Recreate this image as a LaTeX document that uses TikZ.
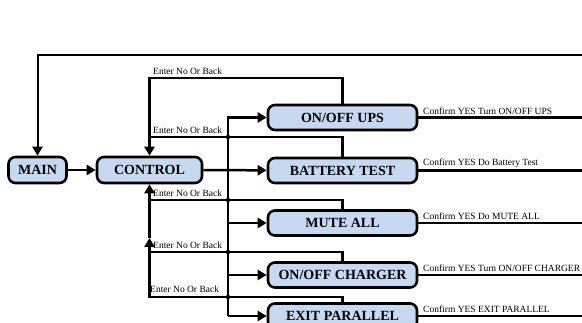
\documentclass[tikz,border=0pt]{standalone}
\usepackage{fontspec}
\setmainfont{Liberation Serif}
\usetikzlibrary{arrows.meta}
\definecolor{boxblue}{RGB}{198,217,241}
\begin{document}
\begin{tikzpicture}[x=1pt,y=-1pt,
  box/.style={draw=black, line width=2.6pt, fill=boxblue, rounded corners=7pt, minimum height=25pt, inner sep=0pt, font=\fontsize{14}{15}\selectfont\bfseries},
  wide/.style={box, minimum width=149pt},
  conn/.style={line width=2.5pt},
  thinconn/.style={line width=2pt},
  arr/.style={conn, -{Triangle[length=9pt,width=10pt]}},
  lbl/.style={font=\fontsize{9.5}{10}\selectfont, inner sep=0pt, anchor=south west},
  jdot/.style={circle, fill=black, inner sep=0pt, minimum size=4.5pt}]
\useasboundingbox (0,0) rectangle (582,323);
\clip (0,0) rectangle (582,323);

% nodes
\node[box, minimum width=58pt, minimum height=26pt] (main) at (37.5,170) {MAIN};
\node[box, minimum width=105pt, minimum height=26pt] (control) at (149.5,170) {CONTROL};
\node[wide] (ups) at (342.5,117.5) {ON/OFF UPS};
\node[wide] (bat) at (342.5,170.5) {BATTERY TEST};
\node[wide] (mute) at (342.5,223) {MUTE ALL};
\node[wide] (chg) at (342.5,275) {ON/OFF CHARGER};
\node[wide, text depth=1pt] (exit) at (342.5,316) {EXIT PARALLEL};

% coordinates
\coordinate (topR) at (590,55);
\coordinate (r1) at (149.5,78);
\coordinate (r2) at (149.5,137);
\coordinate (r3) at (149.5,200);
\coordinate (r4) at (149.5,252);
\coordinate (r5) at (149.5,297);
\coordinate (mid) at (149.5,238);
\coordinate (f1) at (228,117.5);
\coordinate (f3) at (228,223);
\coordinate (f4) at (228,275);
\coordinate (f5) at (228,316);
\coordinate (eU) at (590,117.5);
\coordinate (eB) at (590,170.5);
\coordinate (eM) at (590,223);
\coordinate (eC) at (590,275);
\coordinate (eE) at (590,316);

% top loop back to MAIN
\draw[thinconn, -{Triangle[length=9pt,width=10pt]}] (topR) -| (main.north);

% forward connectors
\draw[arr] (main) -- (control);
\draw[arr] (control) -- (bat);
\draw[arr] (f5) -- (f1) -- (ups.west);
\draw[arr] (f3) -- (mute.west);
\draw[arr] (f4) -- (chg.west);
\draw[arr] (f5) -- (exit.west);

% return connectors
\draw[arr] (ups.north) |- (r1) -- (control.north);
\draw[conn] (bat.north) |- (r2);
\draw[conn] (mute.north) |- (r3);
\draw[conn] (chg.north) |- (r4);
\draw[conn] (exit.north) |- (r5) -- (r4);
\draw[arr] (r4) -- (mid);
\draw[arr] (mid) -- (control.south);

% junction dots
\node[jdot] at (228,137) {};
\node[jdot] at (228,200) {};
\node[jdot] at (228,252) {};
\node[jdot] at (228,297) {};

% right exits
\draw[conn] (ups.east) -- (eU);
\draw[conn] (bat.east) -- (eB);
\draw[conn] (mute.east) -- (eM);
\draw[conn] (chg.east) -- (eC);
\draw[conn] (exit.east) -- (eE);

% labels
\node[lbl] at (153,75) {Enter No Or Back};
\node[lbl] at (153,134) {Enter No Or Back};
\node[lbl] at (153,197) {Enter No Or Back};
\node[lbl] at (153,249) {Enter No Or Back};
\node[lbl] at (150,293) {Enter No Or Back};
\node[lbl] at (423,114.5) {Confirm YES Turn ON/OFF UPS};
\node[lbl] at (423,167.5) {Confirm YES Do Battery Test};
\node[lbl] at (423,220) {Confirm YES Do MUTE ALL};
\node[lbl] at (423,272) {Confirm YES Turn ON/OFF CHARGER};
\node[lbl] at (423,313) {Confirm YES EXIT PARALLEL};
\end{tikzpicture}
\end{document}
